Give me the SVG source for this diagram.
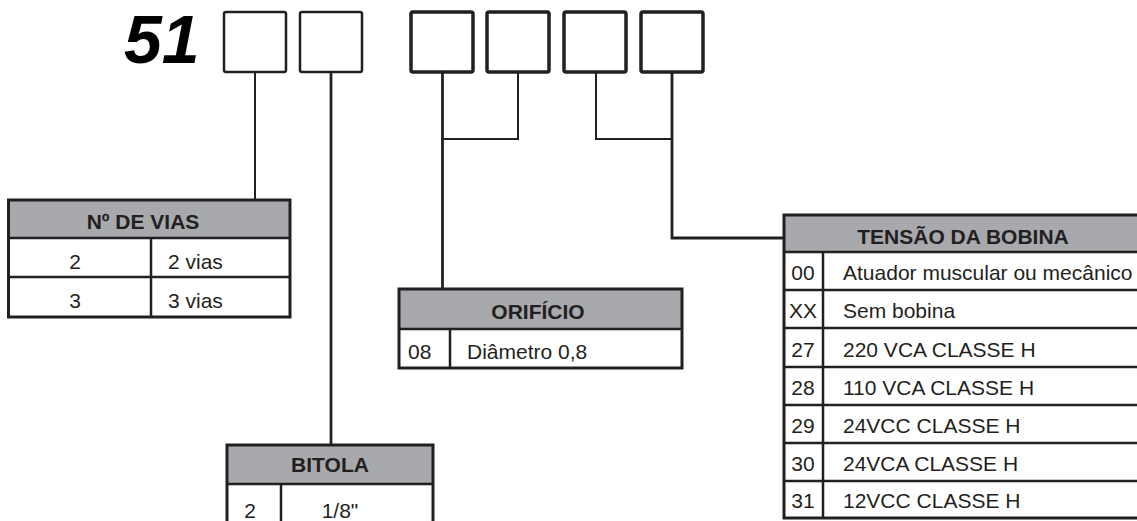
<svg xmlns="http://www.w3.org/2000/svg" width="1137" height="521" viewBox="0 0 1137 521">
<style>
  .box { fill: #fff; stroke: #231f20; }
  .thin { stroke-width: 2.5; }
  .thick { stroke-width: 3.5; }
  .conn { fill: none; stroke: #231f20; stroke-linecap: square; }
  .hdr { fill: #a7a9ac; }
  .frame { fill: none; stroke: #231f20; stroke-width: 3; }
  .grid { stroke: #231f20; stroke-width: 2.5; }
  .t { font-family: "Liberation Sans", Arial, sans-serif; font-size: 21px; fill: #231f20; }
  .b { font-weight: bold; }
  .m { text-anchor: middle; }
</style>
<rect width="1137" height="521" fill="#fff"/>

<g id="code">
  <text x="124" y="63" font-family="Liberation Sans, Arial, sans-serif" font-size="68" font-weight="bold" font-style="italic" fill="#000">51</text>
  <rect class="box thin" x="224" y="12" width="62" height="60" rx="2"/>
  <rect class="box thin" x="300" y="12" width="62" height="60" rx="2"/>
  <rect class="box thick" x="411" y="12" width="62" height="60" rx="2"/>
  <rect class="box thick" x="487" y="12" width="62" height="60" rx="2"/>
  <rect class="box thick" x="564" y="12" width="62" height="60" rx="2"/>
  <rect class="box thick" x="641" y="12" width="62" height="60" rx="2"/>
</g>

<g id="connectors">
  <line class="conn" x1="255" y1="73" x2="255" y2="200" stroke-width="2"/>
  <line class="conn" x1="331" y1="73" x2="331" y2="445" stroke-width="2.7"/>
  <polyline class="conn" points="442.5,73 442.5,289" stroke-width="2.8"/>
  <polyline class="conn" points="518,73 518,139 442.5,139" stroke-width="2"/>
  <polyline class="conn" points="596,73 596,139 672,139" stroke-width="2"/>
  <polyline class="conn" points="672,73 672,238 784,238" stroke-width="2.8"/>
</g>

<g id="vias">
  <rect class="hdr" x="8.5" y="200" width="281.5" height="38"/>
  <line class="grid" x1="8.5" y1="238" x2="290" y2="238"/>
  <line class="grid" x1="8.5" y1="277" x2="290" y2="277"/>
  <line class="grid" x1="151" y1="238" x2="151" y2="317"/>
  <rect class="frame" x="8.5" y="200" width="281.5" height="117"/>
  <text class="t b m" x="143" y="229">Nº DE VIAS</text>
  <text class="t m" x="75" y="269">2</text>
  <text class="t" x="168" y="269">2 vias</text>
  <text class="t m" x="75" y="308">3</text>
  <text class="t" x="168" y="308">3 vias</text>
</g>

<g id="orificio">
  <rect class="hdr" x="399" y="289" width="283" height="40"/>
  <line class="grid" x1="399" y1="329" x2="682" y2="329"/>
  <line class="grid" x1="450" y1="329" x2="450" y2="368"/>
  <rect class="frame" x="399" y="289" width="283" height="79"/>
  <text class="t b m" x="538" y="319">ORIFÍCIO</text>
  <text class="t" x="408" y="359">08</text>
  <text class="t" x="467" y="359">Diâmetro 0,8</text>
</g>

<g id="bitola">
  <rect class="hdr" x="227" y="445" width="206" height="39"/>
  <line class="grid" x1="227" y1="484" x2="433" y2="484"/>
  <line class="grid" x1="281" y1="484" x2="281" y2="526"/>
  <rect class="frame" x="227" y="445" width="206" height="81"/>
  <text class="t b m" x="330" y="472">BITOLA</text>
  <text class="t m" x="250" y="518">2</text>
  <text class="t m" x="340" y="518">1/8"</text>
</g>

<g id="tensao">
  <rect class="hdr" x="784" y="215" width="358" height="37"/>
  <line class="grid" x1="784" y1="252" x2="1142" y2="252"/>
  <line class="grid" x1="784" y1="290" x2="1142" y2="290"/>
  <line class="grid" x1="784" y1="328" x2="1142" y2="328"/>
  <line class="grid" x1="784" y1="367" x2="1142" y2="367"/>
  <line class="grid" x1="784" y1="405" x2="1142" y2="405"/>
  <line class="grid" x1="784" y1="443" x2="1142" y2="443"/>
  <line class="grid" x1="784" y1="481" x2="1142" y2="481"/>
  <line class="grid" x1="823" y1="252" x2="823" y2="518"/>
  <rect class="frame" x="784" y="215" width="358" height="303"/>
  <text class="t b m" x="963" y="244">TENSÃO DA BOBINA</text>
  <text class="t m" x="803" y="280">00</text>
  <text class="t" x="843" y="280">Atuador muscular ou mecânico</text>
  <text class="t m" x="803" y="318">XX</text>
  <text class="t" x="843" y="318">Sem bobina</text>
  <text class="t m" x="803" y="357">27</text>
  <text class="t" x="843" y="357">220 VCA CLASSE H</text>
  <text class="t m" x="803" y="395">28</text>
  <text class="t" x="843" y="395">110 VCA CLASSE H</text>
  <text class="t m" x="803" y="433">29</text>
  <text class="t" x="843" y="433">24VCC CLASSE H</text>
  <text class="t m" x="803" y="471">30</text>
  <text class="t" x="843" y="471">24VCA CLASSE H</text>
  <text class="t m" x="803" y="508">31</text>
  <text class="t" x="843" y="508">12VCC CLASSE H</text>
</g>
</svg>
